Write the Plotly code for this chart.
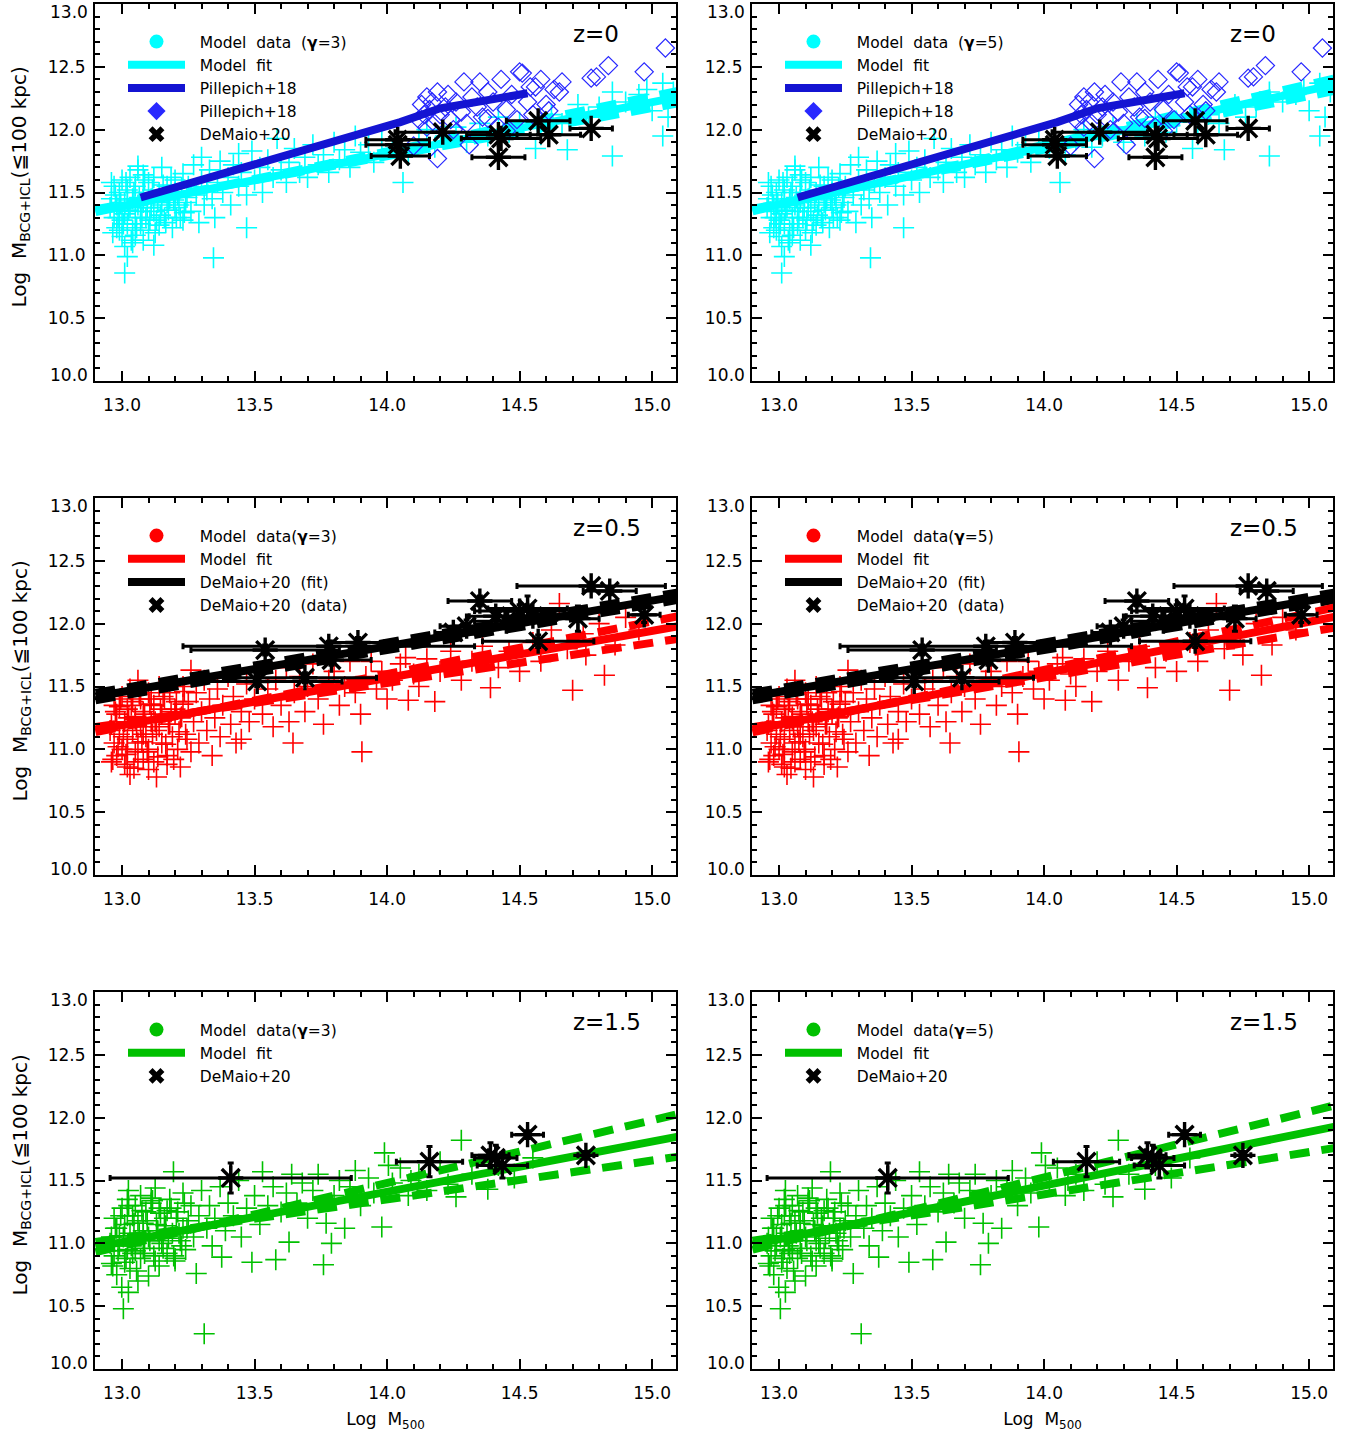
import plotly.graph_objects as go

# ------------------------------------------------------------------ data
fit_x = [12.9, 15.1]

# ---- z = 0 (cyan model points, shared by gamma=3 / gamma=5 panels)
cyan_x = [12.96, 12.97, 12.97, 12.98, 12.98, 12.99, 12.99, 13.00, 13.00, 13.00, 13.01, 13.01, 13.02, 13.02,
          13.03, 13.03, 13.04, 13.04, 13.05, 13.05, 13.06, 13.06, 13.07, 13.07, 13.08, 13.08, 13.09, 13.10,
          13.10, 13.11, 13.12, 13.12, 13.13, 13.14, 13.15, 13.15, 13.16, 13.17, 13.18, 13.19, 13.20, 13.20,
          13.21, 13.22, 13.23, 13.24, 13.25, 13.26, 13.27, 13.28, 13.29, 13.30, 13.31, 13.32, 13.33, 13.34,
          13.35, 13.36, 13.37, 13.38, 13.40, 13.41, 13.42, 13.44, 13.45, 13.47, 13.49, 13.50, 13.52, 13.53,
          13.55, 13.57, 13.585, 13.60, 13.62, 13.63, 13.65, 13.67, 13.69, 13.70, 13.72, 13.74, 13.76, 13.78,
          13.80, 13.82, 13.84, 13.86, 13.88, 13.90, 13.93, 13.95, 13.98, 14.02, 14.06, 14.08, 14.12, 14.15,
          14.18, 14.22, 14.26, 14.30, 14.35, 14.38, 14.42, 14.46, 14.50, 14.56, 14.58, 14.62, 14.66, 14.68,
          14.72, 14.76, 14.80, 14.85, 14.85, 14.90, 14.95, 14.98, 15.00, 15.04, 15.04, 15.06, 15.08,
          13.01, 13.02, 13.01, 13.345, 13.47, 13.12, 13.08, 13.04, 13.06, 13.30, 13.44]
cyan_y = [11.45, 11.30, 11.55, 11.40, 11.22, 11.35, 11.50, 11.28, 11.60, 11.15, 11.42, 11.33, 11.52, 11.25,
          11.38, 11.62, 11.45, 11.20, 11.30, 11.55, 11.40, 11.68, 11.35, 11.25, 11.50, 11.42, 11.30, 11.58,
          11.20, 11.45, 11.35, 11.62, 11.28, 11.50, 11.40, 11.70, 11.30, 11.55, 11.45, 11.22, 11.60, 11.38,
          11.48, 11.30, 11.65, 11.42, 11.55, 11.35, 11.72, 11.48, 11.26, 11.60, 11.40, 11.52, 11.68, 11.45,
          11.30, 11.58, 11.75, 11.50, 11.62, 11.40, 11.72, 11.55, 11.66, 11.48, 11.83, 11.60, 11.70, 11.50,
          11.76, 11.62, 11.93, 11.68, 11.58, 11.74, 11.85, 11.66, 11.78, 11.62, 11.88, 11.72, 11.80, 11.66,
          11.90, 11.76, 11.84, 11.70, 11.95, 11.82, 11.88, 11.74, 11.92, 11.85, 11.58, 11.80, 11.92, 12.00,
          11.86, 11.95, 12.02, 11.90, 12.05, 11.95, 12.10, 11.98, 12.06, 11.85, 11.96, 12.12, 12.05, 11.84,
          12.20, 12.10, 12.18, 12.30, 11.79, 12.22, 12.28, 12.32, 12.15, 12.37, 11.95, 12.10, 12.30,
          10.86, 10.99, 11.07, 10.98, 11.22, 11.08, 11.12, 11.10, 11.71, 11.78, 11.81]
# dense low-mass clump (z = 0)
cyan_x_dense = [12.955, 12.965, 12.975, 12.985, 12.995, 13.005, 13.015, 13.025, 13.035, 13.045, 13.055,
                13.065, 13.075, 13.085, 13.095, 13.105, 13.115, 13.125, 13.135, 13.145, 13.155, 13.165,
                13.175, 13.185, 13.195, 13.205, 13.215, 13.225, 13.235, 13.245, 12.96, 12.99, 13.02,
                13.05, 13.08, 13.11, 13.14, 13.17, 13.20, 13.23]
cyan_y_dense = [11.38, 11.18, 11.48, 11.30, 11.42, 11.25, 11.58, 11.36, 11.12, 11.50, 11.22, 11.46, 11.30,
                11.60, 11.38, 11.28, 11.52, 11.18, 11.42, 11.32, 11.56, 11.26, 11.36, 11.62, 11.44, 11.30,
                11.40, 11.54, 11.34, 11.46, 11.58, 11.20, 11.44, 11.16, 11.64, 11.38, 11.24, 11.42, 11.50,
                11.28]

fit_z0_g3 = [11.35, 12.26]
fit_z0_g3_hi = [11.344, 12.31]
fit_z0_g3_lo = [11.367, 12.21]
fit_z0_g5 = [11.36, 12.36]
fit_z0_g5_hi = [11.35, 12.41]
fit_z0_g5_lo = [11.37, 12.31]

pill_line_x = [13.07, 13.30, 13.50, 13.67, 13.85, 14.05, 14.20, 14.35, 14.53]
pill_line_y = [11.46, 11.60, 11.73, 11.83, 11.94, 12.06, 12.17, 12.23, 12.29]

pill_x = [14.10, 14.12, 14.13, 14.14, 14.15, 14.15, 14.16, 14.17, 14.18, 14.19, 14.19, 14.20, 14.22, 14.23,
          14.24, 14.25, 14.26, 14.28, 14.29, 14.30, 14.31, 14.32, 14.34, 14.35, 14.36, 14.38, 14.38, 14.40,
          14.42, 14.43, 14.45, 14.45, 14.47, 14.49, 14.50, 14.51, 14.53, 14.54, 14.55, 14.56, 14.58, 14.60,
          14.61, 14.63, 14.65, 14.66, 14.77, 14.79, 14.835, 14.97, 15.05]
pill_y = [11.87, 12.08, 12.20, 12.12, 12.26, 12.02, 12.16, 12.22, 12.05, 12.30, 11.77, 12.12, 12.18, 12.28,
          12.08, 12.00, 12.22, 12.14, 12.38, 12.05, 11.88, 12.26, 12.18, 12.38, 12.10, 12.30, 12.09, 12.22,
          12.02, 12.40, 12.16, 11.99, 12.28, 12.08, 12.46, 12.45, 12.22, 12.34, 12.12, 12.34, 12.40, 12.20,
          12.15, 12.32, 12.30, 12.38, 12.41, 12.42, 12.51, 12.46, 12.65]

dm0_x = [14.04, 14.04, 14.05, 14.21, 14.42, 14.43, 14.42, 14.57, 14.61, 14.77]
dm0_y = [11.92, 11.88, 11.79, 11.98, 11.96, 11.93, 11.78, 12.07, 11.96, 12.01]
dm0_xerr = [0.12, 0.12, 0.11, 0.18, 0.12, 0.15, 0.10, 0.12, 0.12, 0.08]

# ---- z = 0.5 (red model points)
red_x = [12.96, 12.97, 12.97, 12.98, 12.98, 12.99, 13.00, 13.00, 13.01, 13.01, 13.02, 13.02, 13.03, 13.03,
         13.04, 13.04, 13.05, 13.05, 13.06, 13.06, 13.07, 13.07, 13.08, 13.08, 13.09, 13.10, 13.10, 13.11,
         13.12, 13.12, 13.13, 13.13, 13.14, 13.15, 13.15, 13.16, 13.17, 13.18, 13.18, 13.19, 13.20, 13.21,
         13.22, 13.22, 13.23, 13.24, 13.25, 13.26, 13.26, 13.27, 13.28, 13.29, 13.30, 13.31, 13.32, 13.33,
         13.34, 13.35, 13.36, 13.37, 13.38, 13.40, 13.41, 13.42, 13.43, 13.45, 13.45, 13.47, 13.48, 13.50,
         13.52, 13.53, 13.55, 13.57, 13.58, 13.60, 13.62, 13.63, 13.645, 13.65, 13.67, 13.69, 13.70, 13.72,
         13.74, 13.76, 13.78, 13.80, 13.82, 13.84, 13.86, 13.88, 13.90, 13.905, 13.92, 13.94, 13.96, 13.98,
         14.00, 14.02, 14.05, 14.07, 14.08, 14.10, 14.12, 14.15, 14.18, 14.20, 14.24, 14.28, 14.32, 14.36,
         14.39, 14.42, 14.46, 14.50, 14.55, 14.58, 14.62, 14.65, 14.68, 14.70, 14.74, 14.75, 14.80, 14.82,
         14.86, 14.90, 14.95, 13.02, 13.06, 13.10]
red_y = [11.20, 11.05, 11.35, 10.95, 11.28, 11.12, 11.42, 11.00, 11.22, 10.88, 11.32, 11.08, 11.48, 10.80,
         11.15, 11.38, 10.98, 11.26, 11.55, 11.05, 11.18, 11.40, 10.92, 11.30, 11.10, 11.45, 11.00, 11.22,
         11.35, 10.90, 10.78, 11.15, 11.50, 11.05, 11.28, 11.40, 10.95, 11.20, 11.45, 11.10, 11.32, 11.00,
         10.86, 11.25, 11.50, 11.12, 11.38, 11.63, 10.98, 11.22, 11.45, 11.05, 11.30, 11.55, 11.15, 11.40,
         10.95, 11.25, 11.48, 11.10, 11.35, 11.58, 11.20, 11.42, 11.05, 11.08, 11.30, 11.52, 11.22, 11.40,
         11.62, 11.28, 11.48, 11.18, 11.55, 11.35, 11.65, 11.22, 11.05, 11.45, 11.58, 11.30, 11.50, 11.68,
         11.40, 11.20, 11.55, 11.62, 11.35, 11.50, 11.70, 11.45, 11.28, 10.98, 11.58, 11.70, 11.48, 11.62,
         11.40, 11.55, 11.68, 11.73, 11.39, 11.60, 11.50, 11.72, 11.38, 11.62, 11.78, 11.55, 11.70, 11.82,
         11.49, 11.65, 11.78, 11.62, 11.85, 11.70, 11.95, 12.16, 11.80, 11.47, 11.92, 11.75, 12.00, 11.59,
         11.83, 12.05, 11.95, 10.86, 10.90, 10.84]
red_x_dense = cyan_x_dense
red_y_dense = [11.15, 10.92, 11.30, 11.02, 11.40, 11.10, 10.96, 11.25, 11.35, 10.85, 11.18, 11.44, 11.06,
               11.28, 10.98, 11.36, 11.12, 11.22, 10.94, 11.32, 11.42, 11.04, 11.20, 11.30, 10.92, 11.38,
               11.14, 11.26, 11.46, 11.08, 10.90, 11.34, 11.00, 11.24, 11.12, 11.40, 11.18, 10.88, 11.28,
               11.36]

fit_z05_g3 = [11.155, 11.98]
fit_z05_g3_hi = [11.137, 12.06]
fit_z05_g3_lo = [11.177, 11.88]
fit_z05_g5 = [11.155, 12.056]
fit_z05_g5_hi = [11.135, 12.13]
fit_z05_g5_lo = [11.175, 11.97]
dm_fit_z05 = [11.42, 12.22]
dm_fit_z05_hi = [11.45, 12.25]
dm_fit_z05_lo = [11.39, 12.19]

dm05_x = [13.54, 13.78, 13.89, 13.79, 13.51, 13.69, 14.25, 14.30, 14.35, 14.41, 14.45, 14.53, 14.55,
          14.57, 14.72, 14.77, 14.84, 14.97, 14.50]
dm05_y = [11.79, 11.82, 11.85, 11.71, 11.54, 11.57, 11.93, 11.98, 12.18, 12.06, 12.02, 12.12, 12.06,
          11.86, 12.04, 12.30, 12.26, 12.07, 12.10]
dm05_xerr = [0.28, 0.55, 0.10, 0.15, 0.32, 0.27, 0.07, 0.10, 0.12, 0.10, 0.12, 0.15, 0.10,
             0.21, 0.08, 0.28, 0.10, 0.06, 0.17]
dm05_yerr = [0.04, 0.04, 0.04, 0.04, 0.04, 0.04, 0.05, 0.05, 0.04, 0.06, 0.06, 0.10, 0.05,
             0.05, 0.10, 0.03, 0.03, 0.06, 0.05]

# ---- z = 1.5 (green model points)
green_x = [12.96, 12.97, 12.97, 12.98, 12.98, 12.99, 12.999, 13.00, 13.005, 13.01, 13.01, 13.02, 13.02,
           13.024, 13.024, 13.03, 13.03, 13.04, 13.04, 13.05, 13.05, 13.06, 13.06, 13.07, 13.07, 13.08,
           13.08, 13.09, 13.10, 13.10, 13.11, 13.12, 13.125, 13.13, 13.14, 13.14, 13.15, 13.16, 13.17,
           13.18, 13.19, 13.194, 13.20, 13.21, 13.22, 13.23, 13.24, 13.25, 13.26, 13.27, 13.28, 13.29,
           13.30, 13.31, 13.32, 13.33, 13.34, 13.35, 13.37, 13.376, 13.39, 13.40, 13.42, 13.44, 13.45,
           13.47, 13.49, 13.50, 13.52, 13.53, 13.55, 13.57, 13.58, 13.60, 13.62, 13.63, 13.64, 13.66,
           13.68, 13.70, 13.72, 13.74, 13.76, 13.77, 13.79, 13.80, 13.82, 13.84, 13.86, 13.88, 13.90,
           13.93, 13.95, 13.98, 13.99, 14.005, 14.02, 14.05, 14.08, 14.09, 14.12, 14.15, 14.20, 14.23,
           14.26, 14.28, 14.32, 14.38, 14.42, 14.48, 14.55]
green_y = [11.05, 10.90, 11.20, 10.75, 11.12, 10.98, 10.65, 11.28, 10.48, 10.85, 11.15, 11.35, 10.95,
           10.61, 11.42, 11.08, 10.80, 11.22, 10.92, 11.30, 11.02, 10.70, 11.18, 10.88, 11.38, 11.10,
           10.96, 11.25, 10.74, 11.05, 11.32, 10.90, 11.44, 11.15, 10.82, 11.28, 11.00, 11.20, 10.92,
           11.35, 11.08, 11.57, 10.86, 11.25, 11.02, 11.40, 10.95, 11.18, 11.30, 11.05, 10.76, 11.22,
           11.42, 10.28, 11.12, 11.30, 10.98, 11.20, 11.45, 10.89, 11.10, 11.32, 11.22, 11.50, 11.05,
           11.28, 10.85, 11.38, 11.15, 11.57, 11.30, 11.45, 10.87, 11.25, 11.40, 11.01, 11.55, 11.32,
           11.48, 11.20, 11.42, 11.55, 10.83, 11.16, 11.00, 11.38, 11.50, 11.12, 11.45, 11.58, 11.30,
           11.52, 11.40, 11.13, 11.72, 11.62, 11.48, 11.60, 11.38, 11.50, 11.55, 11.42, 11.65, 11.47,
           11.37, 11.82, 11.55, 11.43, 11.62, 11.52, 11.68]
green_x_dense = cyan_x_dense
green_y_dense = [11.00, 10.82, 11.12, 10.94, 11.22, 11.05, 10.88, 11.30, 10.98, 11.16, 10.78, 11.08, 11.26,
                 10.92, 11.18, 11.02, 11.34, 10.86, 11.10, 11.24, 10.96, 11.14, 11.04, 11.28, 10.90, 11.20,
                 11.08, 10.98, 11.32, 11.12, 10.84, 11.06, 11.22, 10.94, 11.16, 11.36, 11.02, 11.26, 10.88,
                 11.12]

fit_z15_g3 = [10.97, 11.85]
fit_z15_g3_hi = [10.93, 12.03]
fit_z15_g3_lo = [11.01, 11.69]
fit_z15_g5 = [10.99, 11.93]
fit_z15_g5_hi = [10.95, 12.10]
fit_z15_g5_lo = [11.02, 11.76]

dm15_x = [13.41, 14.16, 14.39, 14.41, 14.435, 14.53, 14.75]
dm15_y = [11.52, 11.65, 11.70, 11.68, 11.62, 11.865, 11.70]
dm15_xerr = [0.455, 0.125, 0.07, 0.08, 0.095, 0.06, 0.03]
dm15_yerr = [0.12, 0.12, 0.10, 0.10, 0.10, 0.03, 0.03]

# tick labels
x_ticks = [13.0, 13.5, 14.0, 14.5, 15.0]
y_ticks = [10.0, 10.5, 11.0, 11.5, 12.0, 12.5, 13.0]

# ------------------------------------------------------------------ style
W, H = 1353, 1435
ML, MR, MT, MB = 95, 20, 4, 66
PW, PH = W - ML - MR, H - MT - MB
FONT = "DejaVu Sans"

CYAN, RED, GREEN = "#00ffff", "#ff0000", "#00c000"
BLUE_LINE, BLUE_DIAM, BLACK = "#1414d2", "#2828ff", "#000000"


def px_x(p):
    return (p - ML) / PW


def px_y(p):
    return (H - MB - p) / PH


col_px = [(95, 676), (752, 1333)]
row_px = [(4, 381), (498, 875), (992, 1369)]

fig = go.Figure()
layout = {}

panels = [
    dict(r=0, c=0, z="z=0", col=CYAN, g=3, px=cyan_x + cyan_x_dense, py=cyan_y + cyan_y_dense,
         fit=fit_z0_g3, hi=fit_z0_g3_hi, lo=fit_z0_g3_lo),
    dict(r=0, c=1, z="z=0", col=CYAN, g=5, px=cyan_x + cyan_x_dense, py=cyan_y + cyan_y_dense,
         fit=fit_z0_g5, hi=fit_z0_g5_hi, lo=fit_z0_g5_lo),
    dict(r=1, c=0, z="z=0.5", col=RED, g=3, px=red_x + red_x_dense, py=red_y + red_y_dense,
         fit=fit_z05_g3, hi=fit_z05_g3_hi, lo=fit_z05_g3_lo),
    dict(r=1, c=1, z="z=0.5", col=RED, g=5, px=red_x + red_x_dense, py=red_y + red_y_dense,
         fit=fit_z05_g5, hi=fit_z05_g5_hi, lo=fit_z05_g5_lo),
    dict(r=2, c=0, z="z=1.5", col=GREEN, g=3, px=green_x + green_x_dense, py=green_y + green_y_dense,
         fit=fit_z15_g3, hi=fit_z15_g3_hi, lo=fit_z15_g3_lo),
    dict(r=2, c=1, z="z=1.5", col=GREEN, g=5, px=green_x + green_x_dense, py=green_y + green_y_dense,
         fit=fit_z15_g5, hi=fit_z15_g5_hi, lo=fit_z15_g5_lo),
]

annotations = []
DASH = "20px,12px"
TICKFONT = dict(family=FONT, size=17, color="black")

for i, p in enumerate(panels):
    n = i + 1
    xa = "x" if n == 1 else f"x{n}"
    ya = "y" if n == 1 else f"y{n}"
    lg = "legend" if n == 1 else f"legend{n}"
    x0, x1 = col_px[p["c"]]
    y0, y1 = row_px[p["r"]]
    axis_common = dict(
        showgrid=False, zeroline=False, showline=True, linecolor="black", linewidth=2,
        mirror="allticks", ticks="inside", ticklen=10, tickwidth=2, tickcolor="black",
        tickfont=TICKFONT, tickformat=".1f",
    )
    layout["xaxis" if n == 1 else f"xaxis{n}"] = dict(
        axis_common, domain=[px_x(x0), px_x(x1)], range=[12.898, 15.09],
        tickvals=x_ticks, anchor=ya, ticklabelstandoff=8,
        minor=dict(ticks="inside", ticklen=5, tickwidth=2, dtick=0.1, tick0=13.0, tickcolor="black"),
    )
    # inner y ticks are labelled by the axis; the end labels are nudged inward (IDL style) below
    layout["yaxis" if n == 1 else f"yaxis{n}"] = dict(
        axis_common, domain=[px_y(y1), px_y(y0)], range=[10.0, 13.0],
        tickvals=y_ticks[1:-1], anchor=xa, ticklabelstandoff=4,
        minor=dict(ticks="inside", ticklen=5, tickwidth=2, dtick=0.1, tick0=10.0, tickcolor="black"),
    )
    for val, shift in ((y_ticks[0], 6), (y_ticks[-1], -8)):
        annotations.append(dict(text=f"{val:.1f}", xref=f"{xa} domain", yref=ya, x=0, y=val,
                                xanchor="right", yanchor="middle", xshift=-5, yshift=shift,
                                showarrow=False, font=TICKFONT))
    if p["r"] == 2:
        layout["xaxis" if n == 1 else f"xaxis{n}"]["title"] = dict(
            text="Log  M<sub>500</sub>", font=dict(family=FONT, size=17, color="black"), standoff=11)

    # model points
    fig.add_trace(go.Scatter(x=p["px"], y=p["py"], mode="markers", xaxis=xa, yaxis=ya,
                             marker=dict(symbol="cross-thin-open", size=15, color=p["col"],
                                         line=dict(width=1.6, color=p["col"])),
                             showlegend=False, hoverinfo="skip"))
    # DeMaio fit (z=0.5)
    if p["r"] == 1:
        for arr, dash in ((dm_fit_z05_hi, DASH), (dm_fit_z05_lo, DASH), (dm_fit_z05, "solid")):
            fig.add_trace(go.Scatter(x=fit_x, y=arr, mode="lines", xaxis=xa, yaxis=ya,
                                     line=dict(color=BLACK, width=8, dash=dash),
                                     showlegend=False, hoverinfo="skip"))
    # model fit + bounds
    for arr, dash in ((p["hi"], DASH), (p["lo"], DASH), (p["fit"], "solid")):
        fig.add_trace(go.Scatter(x=fit_x, y=arr, mode="lines", xaxis=xa, yaxis=ya,
                                 line=dict(color=p["col"], width=8, dash=dash),
                                 showlegend=False, hoverinfo="skip"))
    if p["r"] == 0:
        fig.add_trace(go.Scatter(x=pill_x, y=pill_y, mode="markers", xaxis=xa, yaxis=ya,
                                 marker=dict(symbol="diamond-open", size=14, color=BLUE_DIAM,
                                             line=dict(width=1.2, color=BLUE_DIAM)),
                                 showlegend=False, hoverinfo="skip"))
        fig.add_trace(go.Scatter(x=pill_line_x, y=pill_line_y, mode="lines", xaxis=xa, yaxis=ya,
                                 line=dict(color=BLUE_LINE, width=8),
                                 showlegend=False, hoverinfo="skip"))
        dmx, dmy, dmex, dmey = dm0_x, dm0_y, dm0_xerr, None
    elif p["r"] == 1:
        dmx, dmy, dmex, dmey = dm05_x, dm05_y, dm05_xerr, dm05_yerr
    else:
        dmx, dmy, dmex, dmey = dm15_x, dm15_y, dm15_xerr, dm15_yerr
    fig.add_trace(go.Scatter(
        x=dmx, y=dmy, mode="markers", xaxis=xa, yaxis=ya,
        marker=dict(symbol="asterisk-open", size=21, color=BLACK, line=dict(width=3.4, color=BLACK)),
        error_x=dict(type="data", array=dmex, color=BLACK, thickness=3, width=3),
        error_y=(dict(type="data", array=dmey, color=BLACK, thickness=3, width=3)
                 if dmey is not None else dict(visible=False)),
        showlegend=False, hoverinfo="skip"))

    # ---- legend entries (dummy traces)
    sp = "  "
    if p["r"] == 0:
        entries = [(f"Model{sp}data{sp}(<b>γ</b>=%d)" % p["g"], "marker", "circle", p["col"]),
                   (f"Model{sp}fit", "line", None, p["col"]),
                   ("Pillepich+18", "line", None, BLUE_LINE),
                   ("Pillepich+18", "marker", "diamond", BLUE_DIAM),
                   ("DeMaio+20", "marker", "x", BLACK)]
    elif p["r"] == 1:
        entries = [(f"Model{sp}data(<b>γ</b>=%d)" % p["g"], "marker", "circle", p["col"]),
                   (f"Model{sp}fit", "line", None, p["col"]),
                   (f"DeMaio+20{sp}(fit)", "line", None, BLACK),
                   (f"DeMaio+20{sp}(data)", "marker", "x", BLACK)]
    else:
        entries = [(f"Model{sp}data(<b>γ</b>=%d)" % p["g"], "marker", "circle", p["col"]),
                   (f"Model{sp}fit", "line", None, p["col"]),
                   ("DeMaio+20", "marker", "x", BLACK)]
    for name, kind, sym, colr in entries:
        label = "  " + name
        if kind == "marker":
            fig.add_trace(go.Scatter(x=[None], y=[None], mode="markers", name=label, xaxis=xa, yaxis=ya,
                                     marker=dict(symbol=sym, size=14, color=colr), legend=lg))
        else:
            fig.add_trace(go.Scatter(x=[None], y=[None], mode="lines", name=label, xaxis=xa, yaxis=ya,
                                     line=dict(color=colr, width=8), legend=lg))
    layout[lg] = dict(x=px_x(x0 + 28), y=px_y(y0 + 21), xanchor="left", yanchor="top",
                      bgcolor="rgba(0,0,0,0)", borderwidth=0, itemwidth=57, tracegroupgap=0,
                      font=dict(family=FONT, size=15.5, color="black"), traceorder="normal",
                      itemclick=False, itemdoubleclick=False)

    # z label
    annotations.append(dict(text=p["z"], xref=f"{xa} domain", yref=f"{ya} domain",
                            x=(571 - 95) / 581, y=0.92, xanchor="left", yanchor="middle",
                            showarrow=False, font=dict(family=FONT, size=23, color="black")))

# y-axis titles
for (y0, y1) in row_px:
    annotations.append(dict(text="Log  M<sub>BCG+ICL</sub>(≦100 kpc)", xref="paper", yref="paper",
                            x=px_x(20), y=px_y((y0 + y1) / 2 - 5), xanchor="center", yanchor="middle",
                            textangle=-90, showarrow=False,
                            font=dict(family=FONT, size=20, color="black")))

fig.update_layout(
    width=W, height=H, margin=dict(l=ML, r=MR, t=MT, b=MB, autoexpand=False),
    paper_bgcolor="white", plot_bgcolor="white",
    font=dict(family=FONT, color="black"),
    annotations=annotations, **layout)

fig.write_html("out.html", config={"displayModeBar": False},
               post_script="document.body.style.margin='0px';")
